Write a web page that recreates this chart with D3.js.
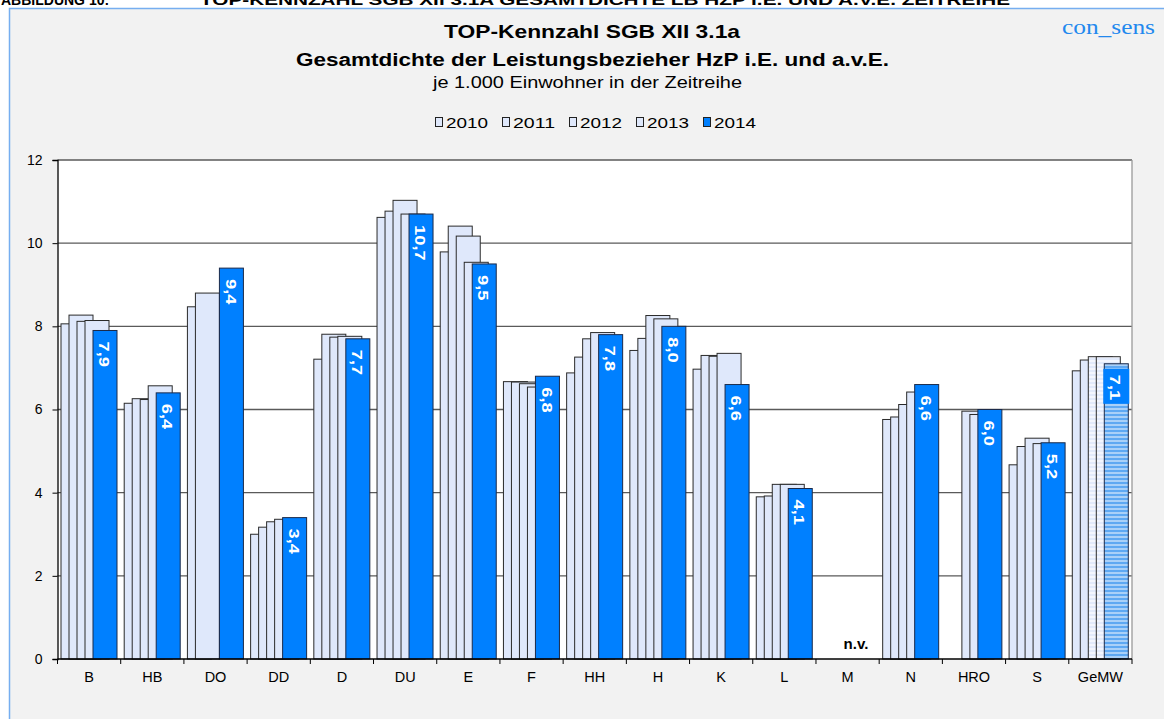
<!DOCTYPE html>
<meta charset="utf-8">
<head>
    <title>TOP-Kennzahl SGB XII 3.1a</title>
    <script type="text/javascript" src="https://d3js.org/d3.v7.min.js"></script>
    <style>
        html, body {
            margin: 0;
            padding: 0;
            background: #ffffff;
        }
        #chart text {
            font-family: Arial, "Liberation Sans", sans-serif;
        }
    </style>
</head>
<body>
    <div id="chart"></div>

    <script>
        // data
        var categories = ["B", "HB", "DO", "DD", "D", "DU", "E", "F", "HH", "H", "K", "L", "M", "N", "HRO", "S", "GeMW"];
        var years = ["2010", "2011", "2012", "2013", "2014"];
        var v2010 = [8.06, 6.15, 8.47, 3.00, 7.21, 10.62, 9.79, 6.67, 6.88, 7.42, 6.97, 3.90, null, 5.76, null, 4.67, 6.93];
        var v2011 = [8.27, 6.26, 8.80, 3.17, 7.81, 10.77, 10.41, 6.66, 7.26, 7.71, 7.30, 3.92, null, 5.82, null, 5.11, 7.19];
        var v2012 = [8.12, 6.24, null, 3.30, 7.74, 11.03, 10.17, 6.62, 7.70, 8.26, 7.28, 4.20, null, 6.12, 5.96, 5.31, 7.27];
        var v2013 = [8.14, 6.57, null, 3.36, 7.76, 10.70, 9.54, 6.54, 7.85, 8.18, 7.35, 4.20, null, 6.42, 5.88, 5.18, 7.27];
        var v2014 = [7.9, 6.4, 9.4, 3.4, 7.7, 10.7, 9.5, 6.8, 7.8, 8.0, 6.6, 4.1, null, 6.6, 6.0, 5.2, 7.1];
        var yTicks = [0, 2, 4, 6, 8, 10, 12];
        var series = [v2010, v2011, v2012, v2013, v2014];

        var width = 1164, height = 719;
        var plot = {left: 57.5, right: 1132, top: 160, bottom: 659};

        var svg = d3.select("#chart").append("svg")
            .attr("width", width)
            .attr("height", height);

        var defs = svg.append("defs");
        // striped fills for the mean group (GeMW)
        var pat = defs.append("pattern").attr("id", "stripeBlue")
            .attr("patternUnits", "userSpaceOnUse").attr("width", 6).attr("height", 4);
        pat.append("rect").attr("width", 6).attr("height", 4).attr("fill", "#a9d0f8");
        pat.append("rect").attr("y", 2).attr("width", 6).attr("height", 2).attr("fill", "#5ea8f2");
        var pat2 = defs.append("pattern").attr("id", "stripeLight")
            .attr("patternUnits", "userSpaceOnUse").attr("width", 6).attr("height", 4);
        pat2.append("rect").attr("width", 6).attr("height", 4).attr("fill", "#f3f6fe");
        pat2.append("rect").attr("y", 2).attr("width", 6).attr("height", 2).attr("fill", "#e2eafb");

        // cut off caption above the frame
        svg.append("text").attr("x", 1).attr("y", 5)
            .attr("font-size", 14).attr("font-weight", "bold")
            .text("ABBILDUNG 10:");
        svg.append("text").attr("x", 200).attr("y", 5)
            .attr("font-size", 14).attr("font-weight", "bold")
            .attr("textLength", 810).attr("lengthAdjust", "spacingAndGlyphs")
            .text("TOP-KENNZAHL SGB XII 3.1A GESAMTDICHTE LB HZP I.E. UND A.V.E. ZEITREIHE");

        // chart frame
        svg.append("rect")
            .attr("x", 9.5).attr("y", 8.5)
            .attr("width", width).attr("height", height)
            .attr("fill", "#f2f2f2")
            .attr("stroke", "#76aef0")
            .attr("stroke-width", 1.5);

        // titles (the source text is set wide, so fit it to its measured width)
        var titles = svg.append("g");
        titles.append("text").attr("x", 444).attr("y", 38)
            .attr("font-size", 18.5).attr("font-weight", "bold")
            .attr("textLength", 296).attr("lengthAdjust", "spacingAndGlyphs")
            .text("TOP-Kennzahl SGB XII 3.1a");
        titles.append("text").attr("x", 296).attr("y", 66)
            .attr("font-size", 18).attr("font-weight", "bold")
            .attr("textLength", 593).attr("lengthAdjust", "spacingAndGlyphs")
            .text("Gesamtdichte der Leistungsbezieher HzP i.E. und a.v.E.");
        titles.append("text").attr("x", 433).attr("y", 88)
            .attr("font-size", 16)
            .attr("textLength", 309).attr("lengthAdjust", "spacingAndGlyphs")
            .text("je 1.000 Einwohner in der Zeitreihe");

        svg.append("text").attr("x", 1062).attr("y", 34)
            .attr("font-size", 21)
            .attr("fill", "#2288ee")
            .attr("textLength", 93).attr("lengthAdjust", "spacingAndGlyphs")
            .style("font-family", "'Liberation Serif', 'Times New Roman', serif")
            .text("con_sens");

        // legend
        var legend = svg.append("g").attr("transform", "translate(435,0)");
        var li = legend.selectAll("g").data(years).enter().append("g")
            .attr("transform", function(d, i) { return "translate(" + (i * 67) + ",0)"; });
        li.append("rect").attr("x", 0.5).attr("y", 117.5).attr("width", 7).attr("height", 9)
            .attr("fill", function(d) { return d == "2014" ? "#0080ff" : "#dfe8fb"; })
            .attr("stroke", "#222").attr("stroke-width", 1);
        li.append("text").attr("x", 11).attr("y", 128)
            .attr("font-size", 15)
            .attr("textLength", 42).attr("lengthAdjust", "spacingAndGlyphs")
            .text(function(d) { return d; });

        // scales
        var x = d3.scaleBand().domain(categories).range([plot.left, plot.right]);
        var xYear = d3.scalePoint().domain(years).range([3.5, 35.5]);
        var barW = 24;
        var y = d3.scaleLinear().domain([0, 12]).range([plot.bottom, plot.top]);

        // plot area
        svg.append("rect")
            .attr("x", plot.left).attr("y", plot.top)
            .attr("width", plot.right - plot.left).attr("height", plot.bottom - plot.top)
            .attr("fill", "#ffffff");

        svg.append("g").selectAll("line").data(yTicks.filter(function(d) { return d > 0; }))
            .enter().append("line")
            .attr("x1", plot.left).attr("x2", plot.right)
            .attr("y1", function(d) { return y(d); }).attr("y2", function(d) { return y(d); })
            .attr("stroke", "#5a5a5a").attr("stroke-width", 1.3);

        svg.append("line")
            .attr("x1", plot.right).attr("x2", plot.right)
            .attr("y1", plot.top).attr("y2", plot.bottom)
            .attr("stroke", "#9a9a9a").attr("stroke-width", 1.3);

        function barFill(cat, si) {
            if (cat == "GeMW") return si == 4 ? "url(#stripeBlue)" : (si >= 2 ? "url(#stripeLight)" : "#dfe8fb");
            return si == 4 ? "#0080ff" : "#dfe8fb";
        }

        // bars, one layer per year so later years overlap earlier ones
        series.forEach(function(vals, si) {
            var yr = years[si];
            var rows = categories.map(function(c, i) { return {cat: c, v: vals[i]}; })
                .filter(function(d) { return d.v != null; });
            svg.append("g").selectAll("rect").data(rows).enter().append("rect")
                .attr("x", function(d) { return x(d.cat) + xYear(yr); })
                .attr("y", function(d) { return y(d.v); })
                .attr("width", barW)
                .attr("height", function(d) { return y(0) - y(d.v); })
                .attr("fill", function(d) { return barFill(d.cat, si); })
                .attr("stroke", si == 4 ? "#1b2a4a" : "#2a2a2a")
                .attr("stroke-width", 1);
        });

        // value labels on 2014 bars
        var lab = categories.map(function(c, i) { return {cat: c, v: v2014[i]}; })
            .filter(function(d) { return d.v != null; });
        var lg = svg.append("g").selectAll("g").data(lab).enter().append("g")
            .attr("transform", function(d) {
                return "translate(" + (x(d.cat) + xYear("2014") + barW / 2) + "," + (y(d.v) + 5) + ")";
            });
        // label box only shows on the patterned bar
        lg.filter(function(d) { return barFill(d.cat, 4).indexOf("url") == 0; })
            .append("rect").attr("x", -13).attr("y", 0).attr("width", 26).attr("height", 35)
            .attr("fill", "#0080ff");
        lg.append("text")
            .attr("transform", "translate(-5.8,6) rotate(90)")
            .attr("font-size", 15.5).attr("font-weight", "bold").attr("fill", "#ffffff")
            .text(function(d) { return d3.format(".1f")(d.v).replace(".", ","); })
            .each(function() {
                // labels in the source are set a little wider
                var w = this.getComputedTextLength();
                d3.select(this).attr("textLength", w * 1.18).attr("lengthAdjust", "spacingAndGlyphs");
            });

        // n.v. marker for missing category
        categories.forEach(function(c, i) {
            var all = series.every(function(s) { return s[i] == null; });
            if (all) {
                svg.append("text").attr("x", x(c) + 40).attr("y", 649)
                    .attr("text-anchor", "middle").attr("font-size", 15).attr("font-weight", "bold")
                    .text("n.v.");
            }
        });

        // axes
        var yAxis = svg.append("g").attr("transform", "translate(" + plot.left + ",0)")
            .call(d3.axisLeft(y).tickValues(yTicks).tickSize(5).tickPadding(10).tickFormat(d3.format("d")));
        yAxis.select(".domain").attr("stroke", "#000").attr("stroke-width", 1.3);
        yAxis.selectAll(".tick line").attr("stroke", "#000");
        yAxis.selectAll("text").attr("font-size", 14).attr("fill", "#000")
            .style("font-family", "Arial, 'Liberation Sans', sans-serif");

        var xAxis = svg.append("g").attr("transform", "translate(0," + plot.bottom + ")")
            .call(d3.axisBottom(x).tickSize(0).tickPadding(13));
        xAxis.select(".domain").remove();
        xAxis.selectAll("text").attr("font-size", 14.5).attr("fill", "#000")
            .style("font-family", "Arial, 'Liberation Sans', sans-serif");
        svg.append("line").attr("x1", plot.left).attr("x2", plot.right)
            .attr("y1", plot.bottom).attr("y2", plot.bottom)
            .attr("stroke", "#000").attr("stroke-width", 1.3);
        var bounds = categories.map(function(c) { return x(c); }).concat([plot.right]);
        svg.append("g").selectAll("line").data(bounds).enter().append("line")
            .attr("x1", function(d) { return d; }).attr("x2", function(d) { return d; })
            .attr("y1", plot.bottom).attr("y2", plot.bottom + 5)
            .attr("stroke", "#000");
    </script>
</body>
</html>
